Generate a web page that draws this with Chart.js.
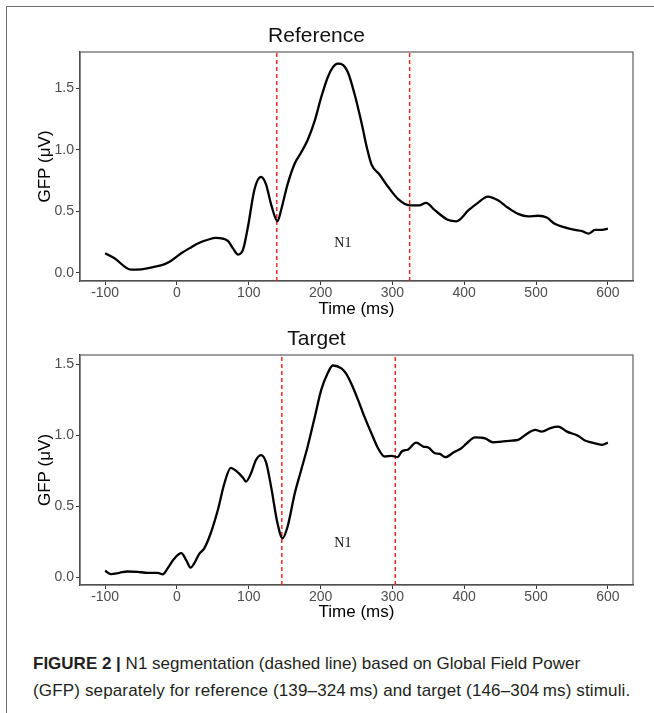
<!doctype html>
<html>
<head>
<meta charset="utf-8" />
<script src="https://cdn.jsdelivr.net/npm/chart.js"></script>
<style>
  body { margin:0; background:#fff; font-family: "Liberation Sans", Arial, sans-serif; }
  .page { position:relative; width:654px; height:713px; overflow:hidden; background:#fff; }
  .frame { position:absolute; left:6px; top:6px; right:-10px; bottom:-10px; border-top:1.5px solid #6e6e6e; border-left:1.5px solid #6e6e6e; }
  canvas { position:absolute; left:0; }
  .caption { position:absolute; left:33px; top:650px; font-size:17px; line-height:27px; color:#231f20; white-space:nowrap; }
  .caption b { font-weight:bold; }
  .caption .l2 { letter-spacing:0.15px; }
</style>
</head>
<body>
<div class="page">
  <div class="frame"></div>
  <canvas id="ref" width="654" height="325" style="top:0px"></canvas>
  <canvas id="tgt" width="654" height="325" style="top:303px"></canvas>
  <div class="caption">
    <div><b>FIGURE 2 |</b> N1 segmentation (dashed line) based on Global Field Power</div>
    <div class="l2">(GFP) separately for reference (139–324&#8201;ms) and target (146–304&#8201;ms) stimuli.</div>
  </div>
</div>
<script>
// x ticks shared by both panels
const xTicks = [-100, 0, 100, 200, 300, 400, 500, 600];
const yTicks = [0, 0.5, 1.0, 1.5];

// Reference GFP
const refTime = [-100, -87, -64, -50, -32, -18, -8, 6, 20, 29, 43, 54, 71, 78, 85, 92, 99, 108, 117, 124, 131, 140, 145, 154, 164, 173, 182, 192, 201, 210, 217, 224, 231, 238, 247, 257, 264, 271, 282, 294, 308, 324, 338, 347, 359, 378, 389, 406, 419, 433, 447, 461, 475, 489, 503, 515, 526, 540, 554, 564, 573, 582, 592, 600];
const refGfp = [0.16, 0.12, 0.027, 0.03, 0.05, 0.07, 0.10, 0.16, 0.21, 0.24, 0.27, 0.285, 0.26, 0.20, 0.15, 0.19, 0.38, 0.68, 0.78, 0.72, 0.56, 0.42, 0.51, 0.72, 0.89, 0.98, 1.08, 1.24, 1.43, 1.59, 1.67, 1.70, 1.69, 1.63, 1.46, 1.22, 1.03, 0.88, 0.80, 0.70, 0.60, 0.55, 0.55, 0.57, 0.51, 0.43, 0.42, 0.51, 0.57, 0.62, 0.59, 0.53, 0.48, 0.46, 0.465, 0.45, 0.40, 0.37, 0.35, 0.34, 0.32, 0.35, 0.35, 0.36];
const refBounds = [139, 324];

// Target GFP
const tgtTime = [-100, -92, -80, -69, -55, -41, -27, -20, -13, -4, 6, 13, 19, 24, 31, 38, 47, 57, 66, 75, 82, 92, 96, 103, 110, 117, 124, 131, 140, 147, 154, 164, 173, 182, 192, 201, 210, 217, 229, 236, 243, 252, 261, 271, 280, 289, 299, 307, 313, 322, 333, 343, 350, 359, 366, 374, 385, 396, 403, 415, 429, 440, 452, 466, 475, 485, 499, 508, 520, 531, 543, 559, 568, 578, 592, 600];
const tgtGfp = [0.047, 0.023, 0.032, 0.041, 0.039, 0.032, 0.032, 0.021, 0.063, 0.13, 0.17, 0.12, 0.068, 0.098, 0.165, 0.204, 0.31, 0.475, 0.66, 0.77, 0.75, 0.70, 0.673, 0.73, 0.825, 0.86, 0.81, 0.64, 0.38, 0.275, 0.356, 0.59, 0.755, 0.92, 1.13, 1.32, 1.437, 1.49, 1.47, 1.43, 1.36, 1.25, 1.13, 1.01, 0.908, 0.85, 0.855, 0.845, 0.885, 0.90, 0.948, 0.92, 0.913, 0.873, 0.868, 0.845, 0.878, 0.908, 0.94, 0.984, 0.977, 0.95, 0.955, 0.962, 0.967, 1.002, 1.037, 1.025, 1.05, 1.06, 1.025, 0.995, 0.962, 0.948, 0.932, 0.948];
const tgtBounds = [146, 304];

const labelPos = { x: 231, y: 0.24, text: "N1" };

const panelBox = {
  id: "panelBox",
  beforeDatasetsDraw(chart) {
    const a = chart.chartArea, c = chart.ctx;
    c.save();
    c.strokeStyle = "#6a6a6a";
    c.lineWidth = 1.3;
    c.strokeRect(a.left, a.top, a.right - a.left, a.bottom - a.top);
    c.restore();
  },
  afterDatasetsDraw(chart) {
    const c = chart.ctx;
    const x = chart.scales.x.getPixelForValue(labelPos.x);
    const y = chart.scales.y.getPixelForValue(labelPos.y);
    c.save();
    c.font = "14px 'Liberation Serif', 'Times New Roman', serif";
    c.fillStyle = "#111";
    c.textAlign = "center";
    c.textBaseline = "middle";
    c.fillText(labelPos.text, x, y);
    c.restore();
  }
};

function makeChart(id, title, time, gfp, bounds, yMin, yMax, chartBottom) {
  const pts = time.map((t, i) => ({ x: t, y: gfp[i] }));
  const vlines = bounds.map((b) => ({
    data: [{ x: b, y: yMin }, { x: b, y: yMax }],
    borderColor: "#ff1a1a",
    borderWidth: 1.4,
    borderDash: [4, 3],
    pointRadius: 0,
    showLine: true,
  }));
  return new Chart(document.getElementById(id), {
    type: "scatter",
    data: {
      datasets: [
        {
          data: pts,
          showLine: true,
          borderColor: "#000",
          borderWidth: 2.3,
          pointRadius: 0,
          cubicInterpolationMode: "monotone",
        },
        ...vlines,
      ],
    },
    options: {
      responsive: false,
      animation: false,
      layout: { padding: { left: 0, right: 21, top: 0, bottom: 0 } },
      plugins: {
        legend: { display: false },
        tooltip: { enabled: false },
        title: {
          display: true,
          text: title,
          color: "#111",
          font: { family: "'Liberation Sans', Arial, sans-serif", size: 21, weight: "normal" },
          padding: { top: 24, bottom: 2.8 },
        },
      },
      scales: {
        x: {
          type: "linear",
          min: -135,
          max: 635,
          afterFit: (s) => { s.height = 325 - chartBottom; },
          afterBuildTicks: (s) => { s.ticks = xTicks.map((v) => ({ value: v })); },
          border: { display: true, color: "#222", width: 1.3 },
          grid: { drawOnChartArea: false, drawTicks: true, tickLength: 4, color: "#333" },
          ticks: {
            color: "#4d4d4d",
            padding: 0,
            maxRotation: 0,
            font: { family: "'Liberation Sans', Arial, sans-serif", size: 14 },
          },
          title: {
            display: true,
            text: "Time (ms)",
            color: "#000",
            font: { family: "'Liberation Sans', Arial, sans-serif", size: 17 },
            padding: { top: 0, bottom: 5 },
          },
        },
        y: {
          type: "linear",
          min: yMin,
          max: yMax,
          afterFit: (s) => { s.width = 80; },
          afterBuildTicks: (s) => { s.ticks = yTicks.map((v) => ({ value: v })); },
          border: { display: true, color: "#222", width: 1.3 },
          grid: { drawOnChartArea: false, drawTicks: true, tickLength: 4, color: "#333" },
          ticks: {
            color: "#4d4d4d",
            padding: 2,
            font: { family: "'Liberation Sans', Arial, sans-serif", size: 14 },
            callback: (v) => v.toFixed(1),
          },
          title: {
            display: true,
            text: "GFP (μV)",
            color: "#000",
            font: { family: "'Liberation Sans', Arial, sans-serif", size: 17 },
            padding: { top: 35, bottom: 0 },
          },
        },
      },
    },
    plugins: [panelBox],
  });
}

makeChart("ref", "Reference", refTime, refGfp, refBounds, -0.065, 1.795, 281);
makeChart("tgt", "Target", tgtTime, tgtGfp, tgtBounds, -0.054, 1.564, 282);
</script>
</body>
</html>
